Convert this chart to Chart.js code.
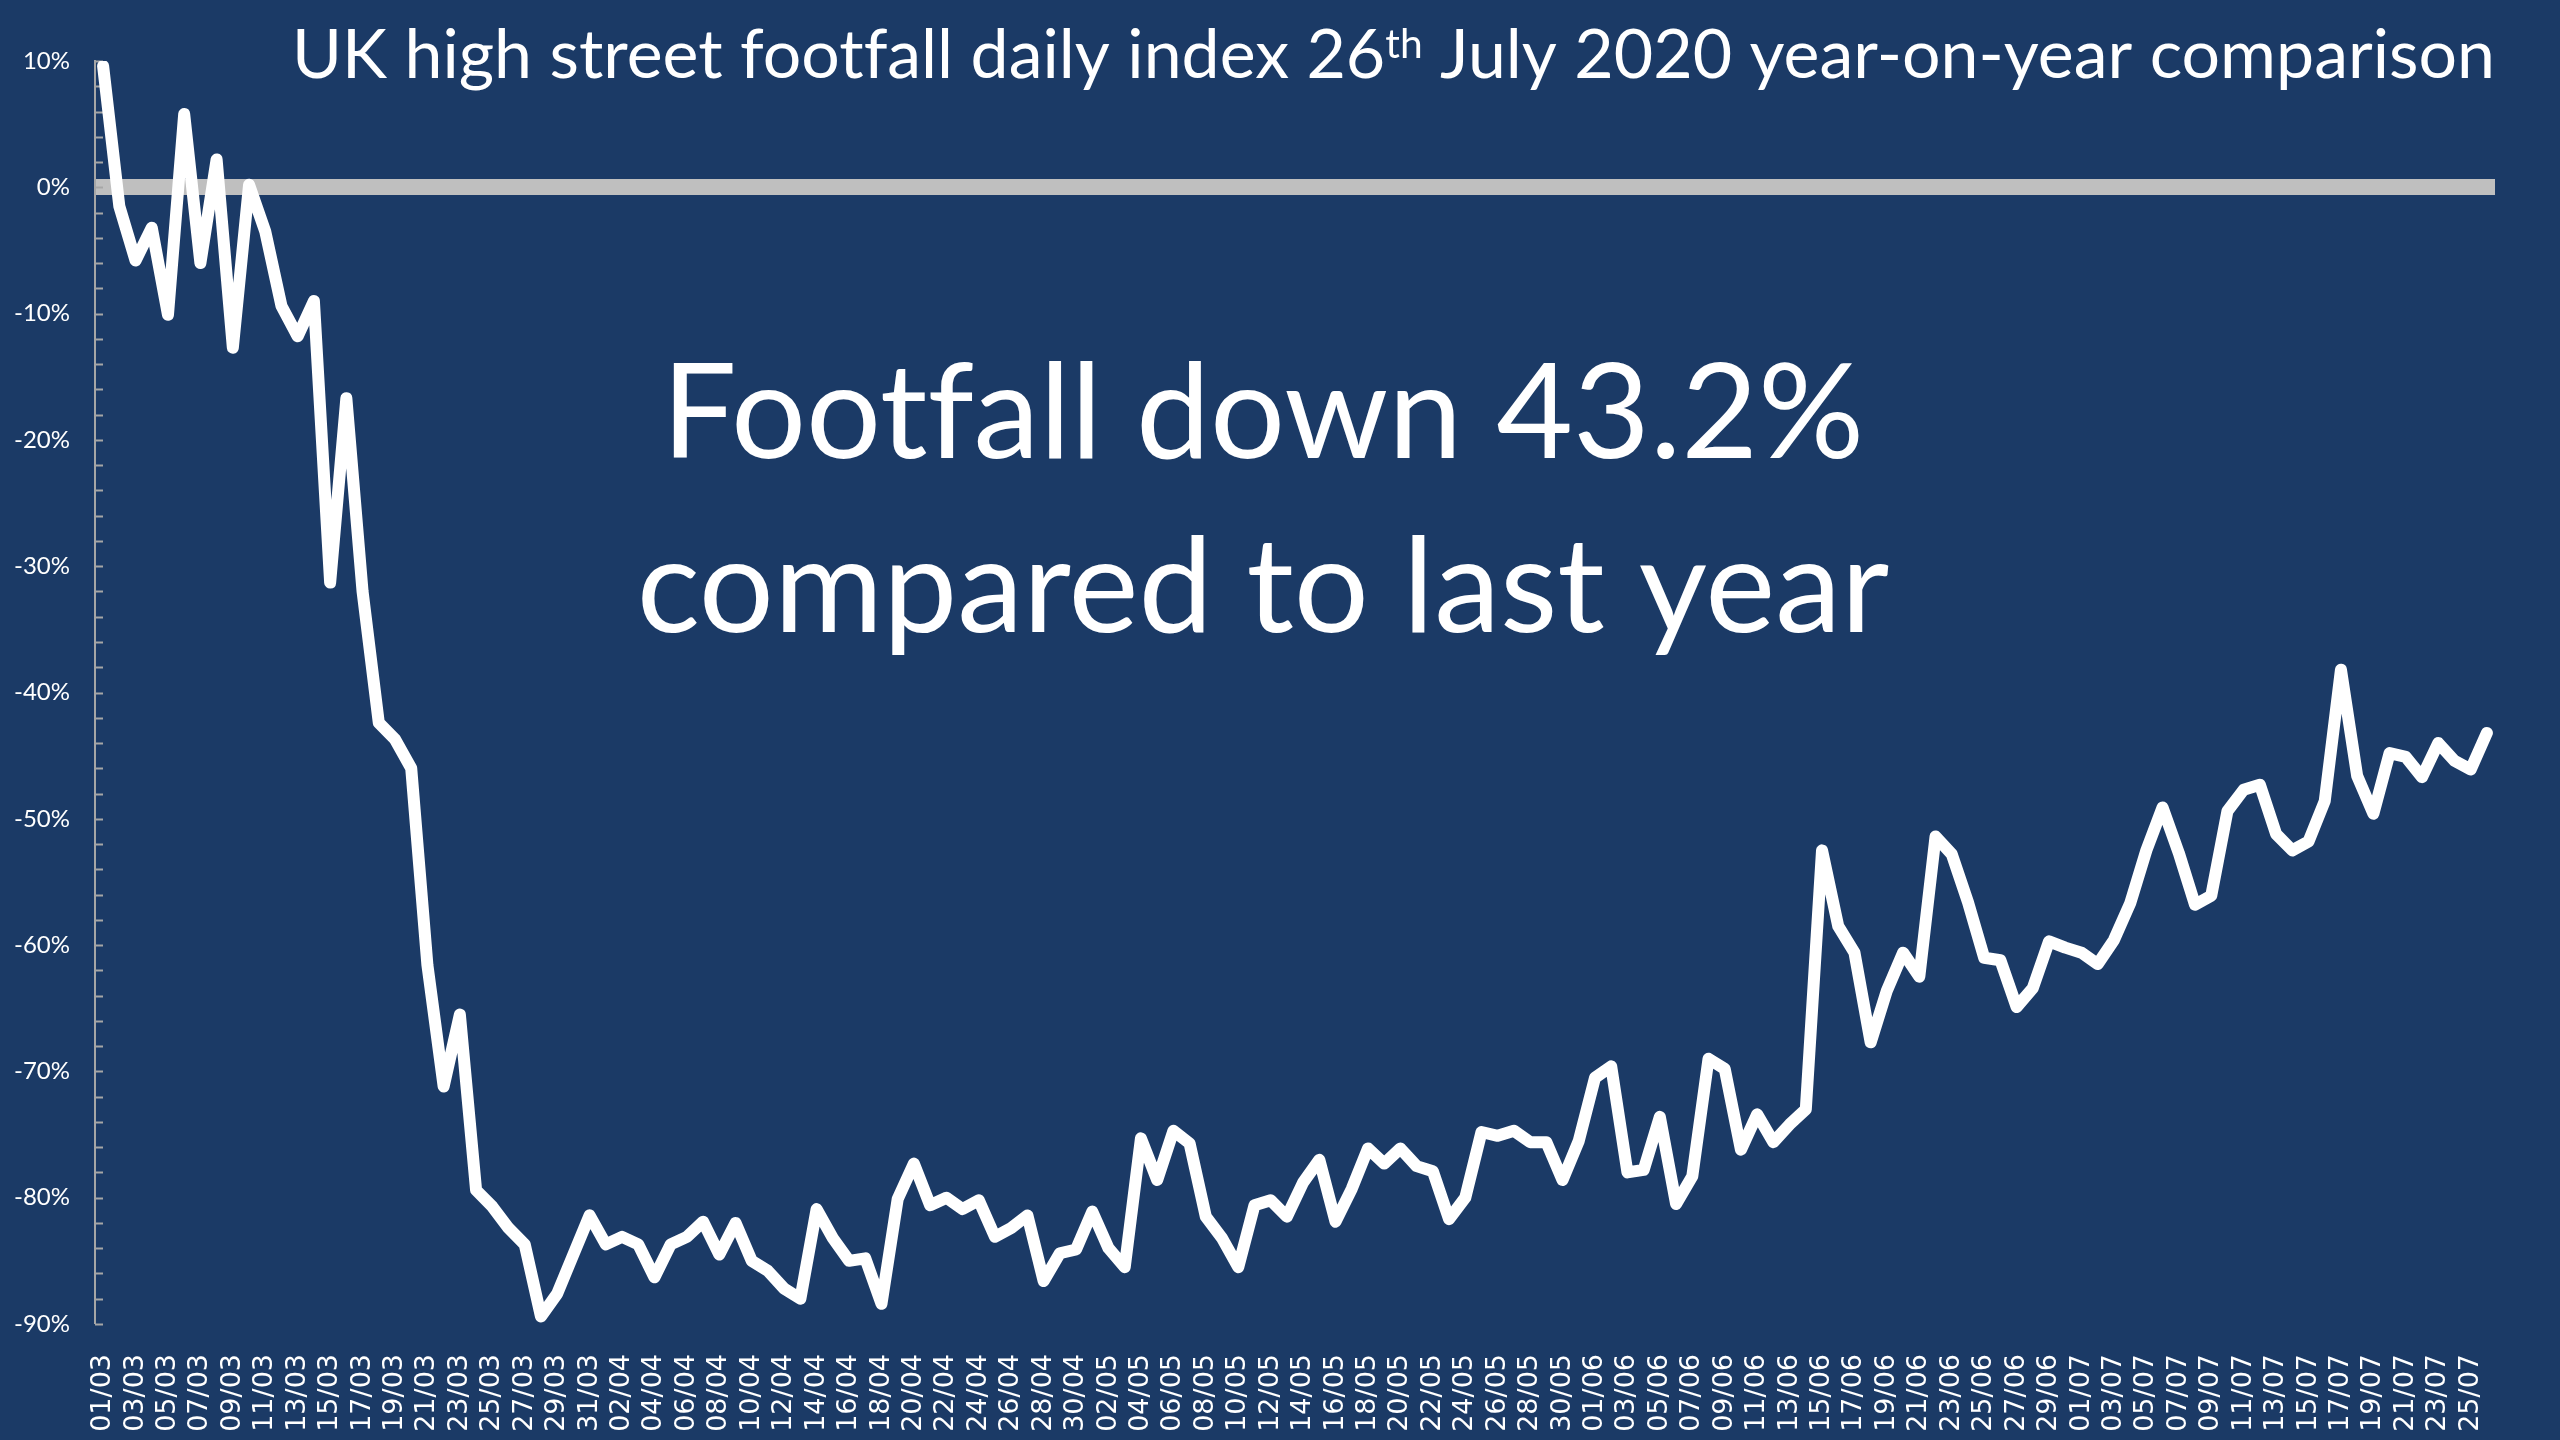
<!DOCTYPE html>
<html>
<head>
<meta charset="utf-8">
<title>UK high street footfall</title>
<script src="https://cdn.jsdelivr.net/npm/chart.js@4.4.1/dist/chart.umd.min.js"></script>
<style>
  html, body { margin: 0; padding: 0; background: #1b3a66; }
  canvas { display: block; }
</style>
</head>
<body>
<canvas id="footfallChart" width="2560" height="1440"></canvas>
<script>
// months on the axis and how many days of each are plotted
const months = ['03', '04', '05', '06', '07'];
const monthDays = [31, 30, 31, 30, 26];

// daily footfall, % change on the same day last year (01/03 .. 26/07)
const footfall = [
  9.6, -1.5, -5.8, -3.2, -10.1, 5.8, -6.0, 2.2, -12.7, 0.2,
  -3.5, -9.4, -11.8, -9.0, -31.3, -16.7, -32.0, -42.4, -43.7, -46.0,
  -61.6, -71.2, -65.5, -79.4, -80.7, -82.4, -83.7, -89.4, -87.6, -84.5,
  -81.4, -83.7, -83.1, -83.7, -86.3, -83.7, -83.1, -81.9, -84.5, -82.0,
  -85.0, -85.8, -87.2, -88.0, -80.9, -83.2, -85.0, -84.8, -88.4, -80.1,
  -77.3, -80.6, -80.0, -80.9, -80.2, -83.1, -82.4, -81.4, -86.6, -84.4,
  -84.1, -81.1, -84.0, -85.5, -75.3, -78.6, -74.7, -75.7, -81.5, -83.2,
  -85.5, -80.6, -80.2, -81.5, -78.8, -77.0, -81.9, -79.3, -76.1, -77.3,
  -76.1, -77.5, -77.9, -81.7, -80.0, -74.8, -75.1, -74.7, -75.6, -75.6,
  -78.6, -75.5, -70.5, -69.6, -78.0, -77.8, -73.6, -80.5, -78.3, -69.0,
  -69.8, -76.2, -73.4, -75.6, -74.2, -73.0, -52.5, -58.5, -60.6, -67.7,
  -63.6, -60.6, -62.5, -51.4, -52.8, -56.6, -61.0, -61.2, -64.9, -63.4,
  -59.7, -60.2, -60.6, -61.5, -59.6, -56.7, -52.5, -49.1, -52.7, -56.8,
  -56.1, -49.4, -47.7, -47.3, -51.2, -52.5, -51.8, -48.6, -38.2, -46.6,
  -49.6, -44.8, -45.1, -46.7, -44.0, -45.4, -46.1, -43.2
];

const titleHead = 'UK high street footfall daily index 26';
const titleSup = 'th';
const titleTail = ' July 2020 year-on-year comparison';

const labels = [];
months.forEach((m, i) => {
  for (let d = 1; d <= monthDays[i]; d++) {
    labels.push(String(d).padStart(2, '0') + '/' + m);
  }
});

const latest = footfall[footfall.length - 1];
const noteLines = [
  'Footfall down ' + Math.abs(latest).toFixed(1) + '%',
  'compared to last year'
];

const axisGrey = '#a6a6a6';

// font size that makes a string fill a given width
function fitSize(ctx, text, family, width) {
  ctx.font = '100px ' + family;
  return 100 * width / ctx.measureText(text).width;
}

const overlay = {
  id: 'overlay',
  beforeDatasetsDraw(chart) {
    // short tick marks pointing into the plot
    const { ctx, chartArea } = chart;
    const y = chart.scales.y;
    ctx.save();
    ctx.strokeStyle = axisGrey;
    ctx.lineWidth = 2;
    y.ticks.forEach(t => {
      const py = Math.round(y.getPixelForValue(t.value)) + 0.5;
      ctx.beginPath();
      ctx.moveTo(chartArea.left, py);
      ctx.lineTo(chartArea.left + 8, py);
      ctx.stroke();
    });
    ctx.restore();
  },
  afterDraw(chart) {
    const { ctx, chartArea } = chart;
    ctx.save();
    ctx.fillStyle = '#ffffff';
    ctx.textBaseline = 'alphabetic';
    // keep "ft" as two glyphs (tiny letter spacing switches ligatures off)
    ctx.textRendering = 'optimizeSpeed';
    ctx.letterSpacing = '0.01px';

    // title, right aligned with the plot, with a superscript ordinal
    const fam = 'Lato';
    ctx.font = '100px ' + fam;
    const w1 = ctx.measureText(titleHead).width;
    const w3 = ctx.measureText(titleTail).width;
    ctx.font = '60px ' + fam;
    const w2 = ctx.measureText(titleSup).width;
    const size = 100 * 2203 / (w1 + w2 + w3);
    const k = size / 100;
    let x = chartArea.right - (w1 + w2 + w3) * k;
    const base = 78;
    ctx.textAlign = 'left';
    ctx.font = size + 'px ' + fam;
    ctx.fillText(titleHead, x, base);
    x += w1 * k;
    ctx.font = (size * 0.6) + 'px ' + fam;
    ctx.fillText(titleSup, x, base - size * 0.3);
    x += w2 * k;
    ctx.font = size + 'px ' + fam;
    ctx.fillText(titleTail, x, base);

    // headline note in the middle of the plot
    const s1 = fitSize(ctx, noteLines[0], fam, 1187);
    const s2 = fitSize(ctx, noteLines[1], fam, 1269);
    const noteSize = (s1 + s2) / 2;
    ctx.font = noteSize + 'px ' + fam;
    ctx.textAlign = 'center';
    ctx.fillText(noteLines[0], 1263, 458);
    ctx.fillText(noteLines[1], 1263, 632);
    ctx.restore();
  }
};

new Chart(document.getElementById('footfallChart'), {
  type: 'line',
  data: {
    labels: labels,
    datasets: [{
      data: footfall,
      borderColor: '#ffffff',
      borderWidth: 12,
      borderJoinStyle: 'round',
      borderCapStyle: 'round',
      pointRadius: 0,
      tension: 0,
      fill: false
    }]
  },
  options: {
    responsive: false,
    animation: false,
    devicePixelRatio: 1,
    layout: { padding: { left: 0, top: 61, right: 65, bottom: 0 } },
    plugins: {
      legend: { display: false },
      tooltip: { enabled: false }
    },
    scales: {
      x: {
        offset: true,
        grid: { display: false },
        border: { display: false },
        ticks: {
          autoSkip: false,
          minRotation: 90,
          maxRotation: 90,
          padding: 22,
          color: '#ffffff',
          font: { family: "'DejaVu Sans'", size: 27 },
          callback: (v, i) => (i % 2 === 0 ? labels[i] : '')
        },
        afterFit: s => { s.height = 116; }
      },
      y: {
        min: -90,
        max: 10,
        border: { display: true, color: axisGrey, width: 2 },
        grid: {
          drawTicks: false,
          color: ctx => (ctx.tick && ctx.tick.value === 0 ? '#bfbfbf' : 'rgba(0,0,0,0)'),
          lineWidth: ctx => (ctx.tick && ctx.tick.value === 0 ? 16 : 0)
        },
        ticks: {
          stepSize: 2,
          autoSkip: false,
          padding: 25,
          color: '#ffffff',
          font: { family: 'Lato', size: 24 },
          callback: v => (v % 10 === 0 ? v + '%' : '')
        },
        afterFit: s => { s.width = 95; }
      }
    }
  },
  plugins: [overlay]
});
</script>
</body>
</html>
